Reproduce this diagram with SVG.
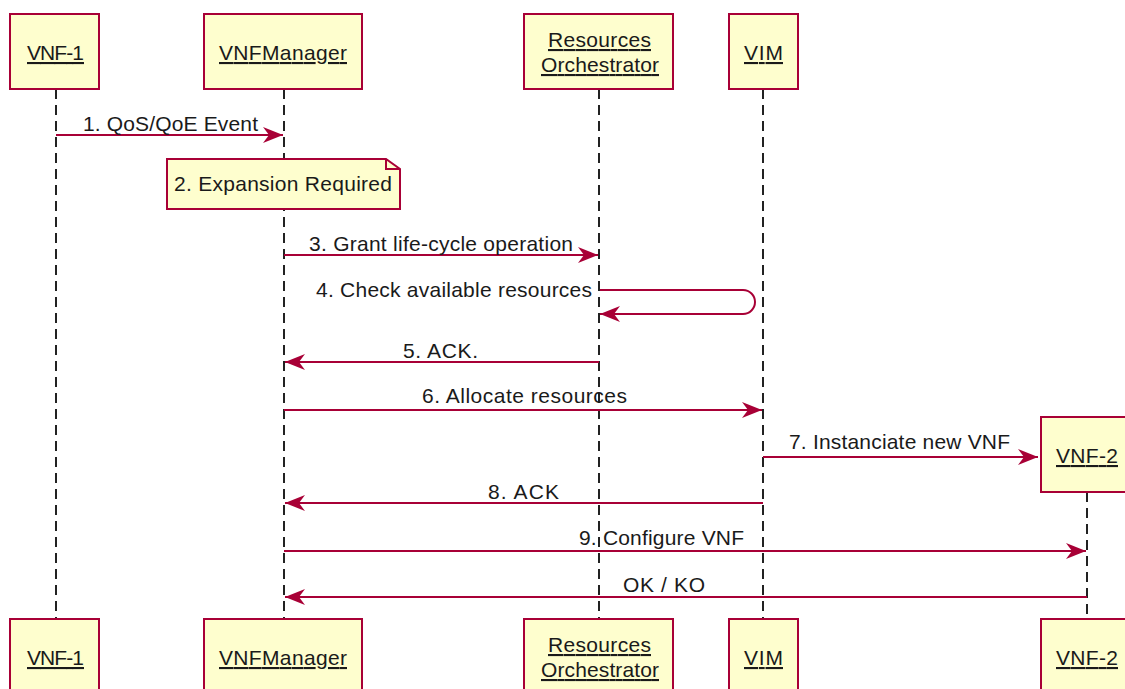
<svg xmlns="http://www.w3.org/2000/svg" width="1125" height="689" viewBox="0 0 1125 689">
<style>
.box{fill:#FEFECE;stroke:#A80036;stroke-width:2}
.lt{font-family:"Liberation Sans",Arial,sans-serif;font-size:21px;fill:#1a1a1a;text-anchor:middle;text-decoration:underline}
.ml{font-family:"Liberation Sans",Arial,sans-serif;font-size:21px;fill:#1a1a1a}
.life{stroke:#222;stroke-width:2;stroke-dasharray:10,6;fill:none}
.msg{stroke:#A80036;stroke-width:2;fill:none}
</style>
<defs>
<marker id="ah" viewBox="0 0 20 16" refX="20" refY="8" markerWidth="20" markerHeight="16" markerUnits="userSpaceOnUse" orient="auto">
<path d="M0,0 L20,8 L0,16 L6,8 Z" fill="#A80036"/>
</marker>
</defs>
<g id="lifelines">
<line class="life" x1="56" y1="89" x2="56" y2="619"/>
<line class="life" x1="284" y1="89" x2="284" y2="619"/>
<line class="life" x1="599" y1="89" x2="599" y2="619"/>
<line class="life" x1="763" y1="89" x2="763" y2="619"/>
<line class="life" x1="1087" y1="492" x2="1087" y2="619"/>
</g>
<g id="vnf1-top"><rect class="box" x="10" y="14" width="89" height="75"/><text class="lt" x="55.5" y="60" textLength="57">VNF-1</text></g>
<g id="vnfm-top"><rect class="box" x="204" y="14" width="158" height="75"/><text class="lt" x="283" y="60" textLength="128">VNFManager</text></g>
<g id="ro-top"><rect class="box" x="524" y="14" width="149" height="75"/><text class="lt" x="599.5" y="47" textLength="103">Resources</text><text class="lt" x="600" y="72" textLength="118">Orchestrator</text></g>
<g id="vim-top"><rect class="box" x="729" y="14" width="69" height="75"/><text class="lt" x="763.5" y="60" textLength="39">VIM</text></g>
<g id="vnf2-top"><rect class="box" x="1041" y="417" width="92" height="75"/><text class="lt" x="1087" y="463" textLength="62">VNF-2</text></g>
<g id="vnf1-bot"><rect class="box" x="10" y="619" width="89" height="80"/><text class="lt" x="55.5" y="665" textLength="57">VNF-1</text></g>
<g id="vnfm-bot"><rect class="box" x="204" y="619" width="158" height="80"/><text class="lt" x="283" y="665" textLength="128">VNFManager</text></g>
<g id="ro-bot"><rect class="box" x="524" y="619" width="149" height="80"/><text class="lt" x="599.5" y="652" textLength="103">Resources</text><text class="lt" x="600" y="677" textLength="118">Orchestrator</text></g>
<g id="vim-bot"><rect class="box" x="729" y="619" width="69" height="80"/><text class="lt" x="763.5" y="665" textLength="39">VIM</text></g>
<g id="vnf2-bot"><rect class="box" x="1041" y="619" width="92" height="80"/><text class="lt" x="1087" y="665" textLength="62">VNF-2</text></g>
<g id="note">
<path class="box" d="M167,159 L386,159 L400,169 L400,209 L167,209 Z"/>
<path d="M386,159 L386,169 L400,169" fill="none" stroke="#A80036" stroke-width="2"/>
<text class="ml" x="174" y="191" textLength="218">2. Expansion Required</text>
</g>
<g id="connectors">
<line class="msg" x1="56" y1="135" x2="283" y2="135" marker-end="url(#ah)"/>
<line class="msg" x1="284" y1="255" x2="598" y2="255" marker-end="url(#ah)"/>
<path class="msg" d="M600,290 L743,290 A12,12 0 0 1 755,302 L755,302 A12,12 0 0 1 743,314 L600,314" marker-end="url(#ah)"/>
<line class="msg" x1="599" y1="362" x2="285" y2="362" marker-end="url(#ah)"/>
<line class="msg" x1="284" y1="410" x2="762" y2="410" marker-end="url(#ah)"/>
<line class="msg" x1="763" y1="457" x2="1038" y2="457" marker-end="url(#ah)"/>
<line class="msg" x1="763" y1="503" x2="285" y2="503" marker-end="url(#ah)"/>
<line class="msg" x1="284" y1="551" x2="1086" y2="551" marker-end="url(#ah)"/>
<line class="msg" x1="1087" y1="597" x2="285" y2="597" marker-end="url(#ah)"/>
</g>
<g id="labels">
<text class="ml" x="83" y="131" textLength="175">1. QoS/QoE Event</text>
<text class="ml" x="309" y="251" textLength="264">3. Grant life-cycle operation</text>
<text class="ml" x="316" y="297" textLength="276">4. Check available resources</text>
<text class="ml" x="403" y="358" textLength="75">5. ACK.</text>
<text class="ml" x="422" y="403" textLength="205">6. Allocate resources</text>
<text class="ml" x="789" y="449" textLength="221">7. Instanciate new VNF</text>
<text class="ml" x="488" y="499" textLength="71">8. ACK</text>
<text class="ml" x="579" y="545" textLength="165">9. Configure VNF</text>
<text class="ml" x="623" y="592" textLength="82">OK / KO</text>
</g>
</svg>
